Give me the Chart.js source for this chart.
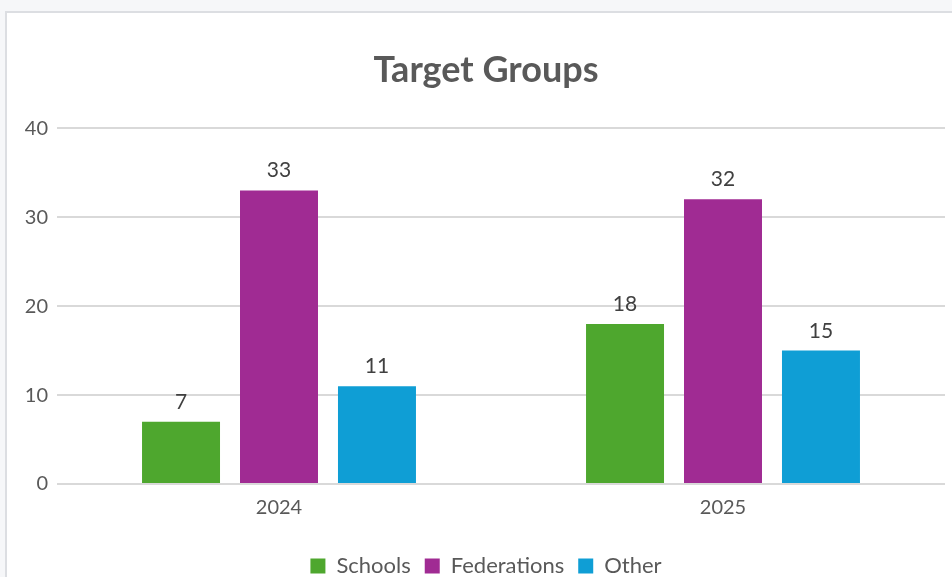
<!DOCTYPE html>
<html>
<head>
<meta charset="utf-8">
<script src="https://cdn.jsdelivr.net/npm/chart.js@4/dist/chart.umd.min.js"></script>
<style>
  html, body { margin: 0; padding: 0; overflow: hidden; background: #f6f7f9; width: 952px; height: 577px; }
  #card { position: absolute; left: 5px; top: 11px; width: 980px; height: 600px; background: #fff; border: 2px solid #dcdee2; box-sizing: border-box; }
  #wrap { position: absolute; left: 7px; top: 13px; width: 958px; height: 574px; }
</style>
</head>
<body>
<div id="card"></div>
<div id="wrap"><canvas id="c"></canvas></div>
<script>
const categories = ["2024", "2025"];
const seriesNames = ["Schools", "Federations", "Other"];
const schools = [7, 18];
const federations = [33, 32];
const other = [11, 15];
const yTicks = [0, 10, 20, 30, 40];
const colors = ["#4ea72e", "#a02b93", "#0f9ed5"];

const valueLabels = {
  id: 'valueLabels',
  afterDatasetsDraw(chart) {
    const ctx = chart.ctx;
    ctx.save();
    ctx.font = '21px Lato';
    ctx.fillStyle = '#404040';
    ctx.textAlign = 'center';
    ctx.textBaseline = 'alphabetic';
    chart.data.datasets.forEach((ds, i) => {
      chart.getDatasetMeta(i).data.forEach((bar, j) => {
        ctx.fillText(String(ds.data[j]), bar.x, bar.y - 13);
      });
    });
    ctx.restore();
  }
};

new Chart(document.getElementById('c'), {
  type: 'bar',
  data: {
    labels: categories,
    datasets: [
      { label: seriesNames[0], data: schools, backgroundColor: colors[0] },
      { label: seriesNames[1], data: federations, backgroundColor: colors[1] },
      { label: seriesNames[2], data: other, backgroundColor: colors[2] }
    ]
  },
  options: {
    responsive: true,
    maintainAspectRatio: false,
    animation: false,
    categoryPercentage: 0.662,
    barPercentage: 0.796,
    layout: { padding: 0 },
    plugins: {
      title: {
        display: true,
        text: 'Target Groups',
        color: '#595959',
        font: { family: 'Lato', size: 36, weight: 'bold' },
        padding: { top: 36, bottom: 36 }
      },
      legend: {
        position: 'bottom',
        labels: {
          color: '#595959',
          font: { family: 'Lato', size: 22 },
          boxWidth: 15,
          boxHeight: 15,
          padding: 14
        }
      },
      tooltip: { enabled: false }
    },
    scales: {
      x: {
        grid: { display: false },
        border: { display: false },
        ticks: { color: '#595959', font: { family: 'Lato', size: 20 }, padding: 4 },
        afterFit(scale) { scale.height += 17; }
      },
      y: {
        min: yTicks[0],
        max: yTicks[yTicks.length - 1],
        afterBuildTicks(axis) { axis.ticks = yTicks.map(v => ({ value: v })); },
        grid: { color: '#d9d9d9', lineWidth: 2, drawTicks: false },
        border: { display: false },
        ticks: { color: '#595959', font: { family: 'Lato', size: 20 }, padding: 9 },
        afterFit(scale) { scale.width = 50; }
      },
      yRightSpacer: {
        position: 'right',
        min: 0,
        max: 1,
        grid: { display: false },
        border: { display: false },
        ticks: { display: false },
        afterFit(scale) { scale.width = 20; }
      }
    }
  },
  plugins: [valueLabels]
});
</script>
</body>
</html>
